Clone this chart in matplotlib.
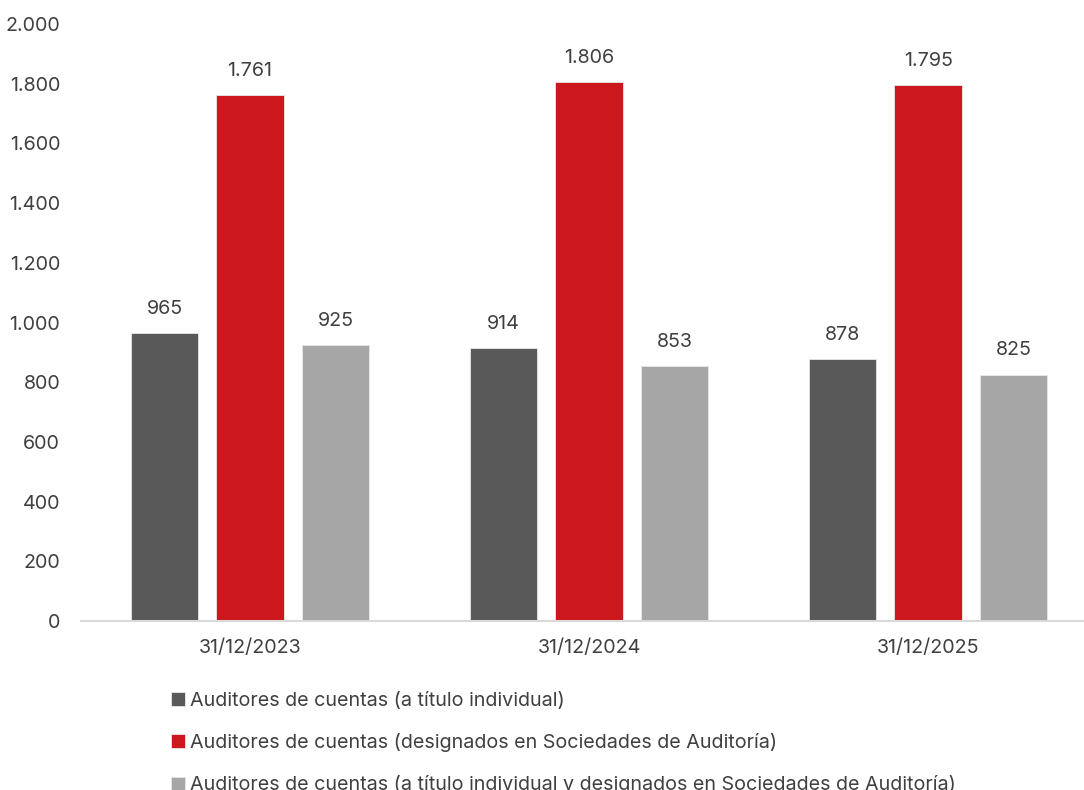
import matplotlib
matplotlib.use("Agg")
import matplotlib.pyplot as plt
import numpy as np

plt.rcParams['font.family'] = ['Inter', 'DejaVu Sans']

# data
fechas = ['31/12/2023', '31/12/2024', '31/12/2025']
series = [
    'Auditores de cuentas (a título individual)',
    'Auditores de cuentas (designados en Sociedades de Auditoría)',
    'Auditores de cuentas (a título individual y designados en Sociedades de Auditoría)',
]
individual = [965, 914, 878]
designados = [1761, 1806, 1795]
ambos = [925, 853, 825]

colores = ['#595959', '#CC171C', '#A6A6A6']
txt = '#404040'
fs = 14.2


def miles(v):
    return f'{v:,.0f}'.replace(',', '.')


fig = plt.figure(figsize=(10.84, 7.9), dpi=100)
ax = fig.add_axes([81 / 1084, 169 / 790, 1002 / 1084, (597) / 790])

x = np.arange(len(fechas))
paso = 0.252
ancho = 0.198
barras = []
for i, (vals, lab) in enumerate(zip([individual, designados, ambos], series)):
    b = ax.bar(x + (i - 1) * paso, vals, width=ancho, color=colores[i],
               edgecolor='#e8e8e8', linewidth=0.6, label=lab, zorder=2)
    barras.append(b)
    for xi, v in zip(x + (i - 1) * paso, vals):
        ax.annotate(miles(v), (xi, v), xytext=(0, 11), textcoords='offset points',
                    ha='center', va='bottom', fontsize=fs, color=txt)

ax.set_xlim(-0.4985, 2.457)
ax.set_ylim(0, 2000)
ax.set_yticks(range(0, 2001, 200))
ax.set_yticklabels([miles(v) for v in range(0, 2001, 200)])
ax.set_xticks(x)
ax.set_xticklabels(fechas)
ax.tick_params(axis='both', length=0, labelsize=fs, labelcolor=txt)
ax.tick_params(axis='y', pad=15)
ax.tick_params(axis='x', pad=13)

for s in ['top', 'right', 'left']:
    ax.spines[s].set_visible(False)
ax.spines['bottom'].set_color('#d9d9d9')
ax.spines['bottom'].set_linewidth(1.5)

fig.legend(handles=barras, loc='upper left', bbox_to_anchor=(163 / 1084, 1 - 684 / 790),
           frameon=False, fontsize=fs, handlelength=0.7, handleheight=0.7,
           handletextpad=0.25, labelspacing=1.18, labelcolor=txt, borderaxespad=0)

fig.savefig('out.png', dpi=100)
